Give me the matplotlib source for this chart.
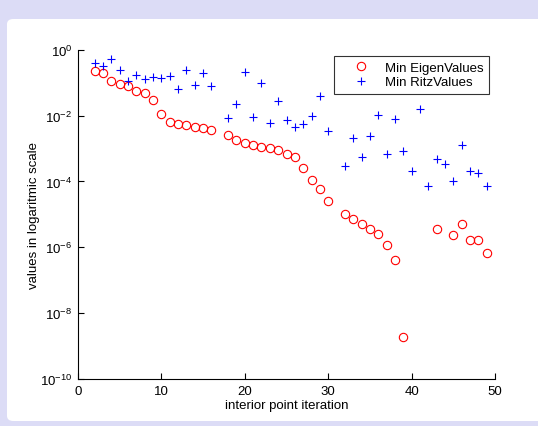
import matplotlib
matplotlib.use("Agg")
import matplotlib.pyplot as plt
from matplotlib.patches import FancyBboxPatch
from matplotlib.ticker import FixedLocator, FuncFormatter, NullLocator
import numpy as np

plt.rcParams['font.family'] = ['Liberation Sans', 'DejaVu Sans']
plt.rcParams['mathtext.fontset'] = 'custom'
plt.rcParams['mathtext.rm'] = 'Liberation Sans'
plt.rcParams['mathtext.it'] = 'Liberation Sans'
plt.rcParams['mathtext.default'] = 'regular'

eig_x = [2, 3, 4, 5, 6, 7, 8, 9, 10, 11, 12, 13, 14, 15, 16,
         18, 19, 20, 21, 22, 23, 24, 25, 26, 27, 28, 29, 30,
         32, 33, 34, 35, 36, 37, 38, 39, 43, 45, 46, 47, 48, 49]
eig_y = [0.22, 0.20, 0.115, 0.093, 0.081, 0.055, 0.049, 0.030, 0.0115, 0.0062,
         0.0057, 0.0050, 0.0045, 0.0041, 0.0037,
         0.0025, 0.0018, 0.0015, 0.0013, 0.0011, 0.0010, 0.00087, 0.00066, 0.00055,
         0.00026, 0.000112, 6.0e-5, 2.6e-5,
         1.05e-5, 7.2e-6, 5.2e-6, 3.5e-6, 2.5e-6, 1.2e-6, 4.0e-7, 1.9e-9,
         3.7e-6, 2.4e-6, 5.1e-6, 1.67e-6, 1.63e-6, 6.8e-7]

ritz_x = [2, 3, 4, 5, 6, 7, 8, 9, 10, 11, 12, 13, 14, 15, 16,
          18, 19, 20, 21, 22, 23, 24, 25, 26, 27, 28, 29, 30,
          32, 33, 34, 35, 36, 37, 38, 39, 40, 41, 42, 43, 44, 45, 46, 47, 48, 49]
ritz_y = [0.39, 0.33, 0.51, 0.24, 0.11, 0.175, 0.13, 0.15, 0.14, 0.16, 0.065,
          0.24, 0.087, 0.19, 0.081,
          0.0083, 0.023, 0.21, 0.009, 0.096, 0.0059, 0.028, 0.0071, 0.0045, 0.0055,
          0.010, 0.038, 0.0033,
          0.0003, 0.0021, 0.00057, 0.0024, 0.0107, 0.0007, 0.0078, 0.00085,
          0.00021, 0.0156, 7.4e-5, 0.00049, 0.00035, 0.000103, 0.00124, 0.00021,
          0.00018, 7.4e-5]

FS = 9.5
fig = plt.figure(figsize=(5.38, 4.27), dpi=100)
fig.patch.set_facecolor('#dcdcf6')
W, H = 538, 427
bg = FancyBboxPatch((7 / W, 5 / H), (W - 7) / W + 0.02, (422 - 20) / H,
                    boxstyle="round,pad=0,rounding_size=0.012",
                    transform=fig.transFigure, facecolor='white',
                    edgecolor='none', zorder=-10)
fig.patches.append(bg)

ax = fig.add_axes([78 / W, 1 - 380 / H, (495 - 78) / W, (380 - 50.7) / H])
ax.set_facecolor('none')
ax.semilogy(eig_x, eig_y, 'o', mfc='none', mec='red', ms=6, mew=0.8,
            label='Min EigenValues')
ax.semilogy(ritz_x, ritz_y, '+', color='blue', ms=6, mew=0.8,
            label='Min RitzValues')
ax.set_xlim(0, 50)
ax.set_ylim(1e-10, 1)
ax.xaxis.set_major_locator(FixedLocator([0, 10, 20, 30, 40, 50]))
ax.yaxis.set_major_locator(FixedLocator([1e-10, 1e-8, 1e-6, 1e-4, 1e-2, 1]))
ax.yaxis.set_minor_locator(NullLocator())
ax.yaxis.set_major_formatter(FuncFormatter(lambda v, p: r'$10^{%d}$' % int(round(np.log10(v)))))
for s in ['top', 'right']:
    ax.spines[s].set_visible(False)
for s in ['left', 'bottom']:
    ax.spines[s].set_linewidth(0.8)
ax.tick_params(direction='in', length=4, width=0.8, labelsize=FS, pad=4)
ax.set_xlabel('interior point iteration', fontsize=FS, labelpad=2)
ax.set_ylabel('values in logaritmic scale', fontsize=FS, labelpad=0)
leg = ax.legend(loc='upper right', bbox_to_anchor=(489 / W, 1 - 57 / H),
                bbox_transform=fig.transFigure, fontsize=FS, frameon=True,
                fancybox=False, edgecolor='black', borderpad=0.4,
                handlelength=3.3, handletextpad=0.15, labelspacing=0.2,
                borderaxespad=0)
leg.get_frame().set_linewidth(0.8)
fig.savefig('out.png', dpi=100, facecolor=fig.get_facecolor())
